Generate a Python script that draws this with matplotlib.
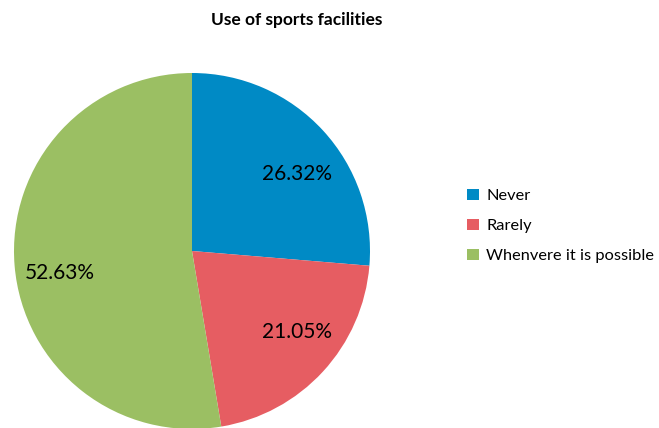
import matplotlib
matplotlib.use("Agg")
import matplotlib.pyplot as plt
from matplotlib.patches import Patch

categories = ["Never", "Rarely", "Whenvere it is possible"]
percentages = [26.32, 21.05, 52.63]
colors = ["#008AC5", "#E65D62", "#9BBF63"]
title = "Use of sports facilities"

# label positions (in pie radius units) for each slice's percentage text
label_xy = [(0.59, 0.43), (0.59, -0.455), (-0.745, -0.125)]

plt.rcParams["font.family"] = ["Lato", "DejaVu Sans"]

W, H = 659, 428
fig = plt.figure(figsize=(W / 100, H / 100), dpi=100)
fig.patch.set_facecolor("white")

cx, cy, r = 192, 251, 178
ax = fig.add_axes([(cx - r) / W, (H - cy - r) / H, 2 * r / W, 2 * r / H])
wedges, _ = ax.pie(percentages, colors=colors, startangle=90, counterclock=False,
                   radius=1, wedgeprops=dict(linewidth=0))
ax.set_xlim(-1, 1)
ax.set_ylim(-1, 1)
ax.set_aspect("equal")
ax.axis("off")

for (x, y), p in zip(label_xy, percentages):
    ax.text(x, y, f"{p:.2f}%", ha="center", va="center", fontsize=15, color="black")

fig.text(297 / W, 1 - 20 / H, title, ha="center", va="center",
         fontsize=12.5, fontweight="bold")

handles = [Patch(facecolor=c, edgecolor="none") for c in colors]
fig.legend(handles, categories, loc="center left", bbox_to_anchor=(459 / W, 1 - 226 / H),
           frameon=False, fontsize=11.8, handlelength=0.7, handleheight=0.7,
           handletextpad=0.45, labelspacing=0.95, borderpad=0)

fig.savefig("out.png", dpi=100, facecolor="white")
